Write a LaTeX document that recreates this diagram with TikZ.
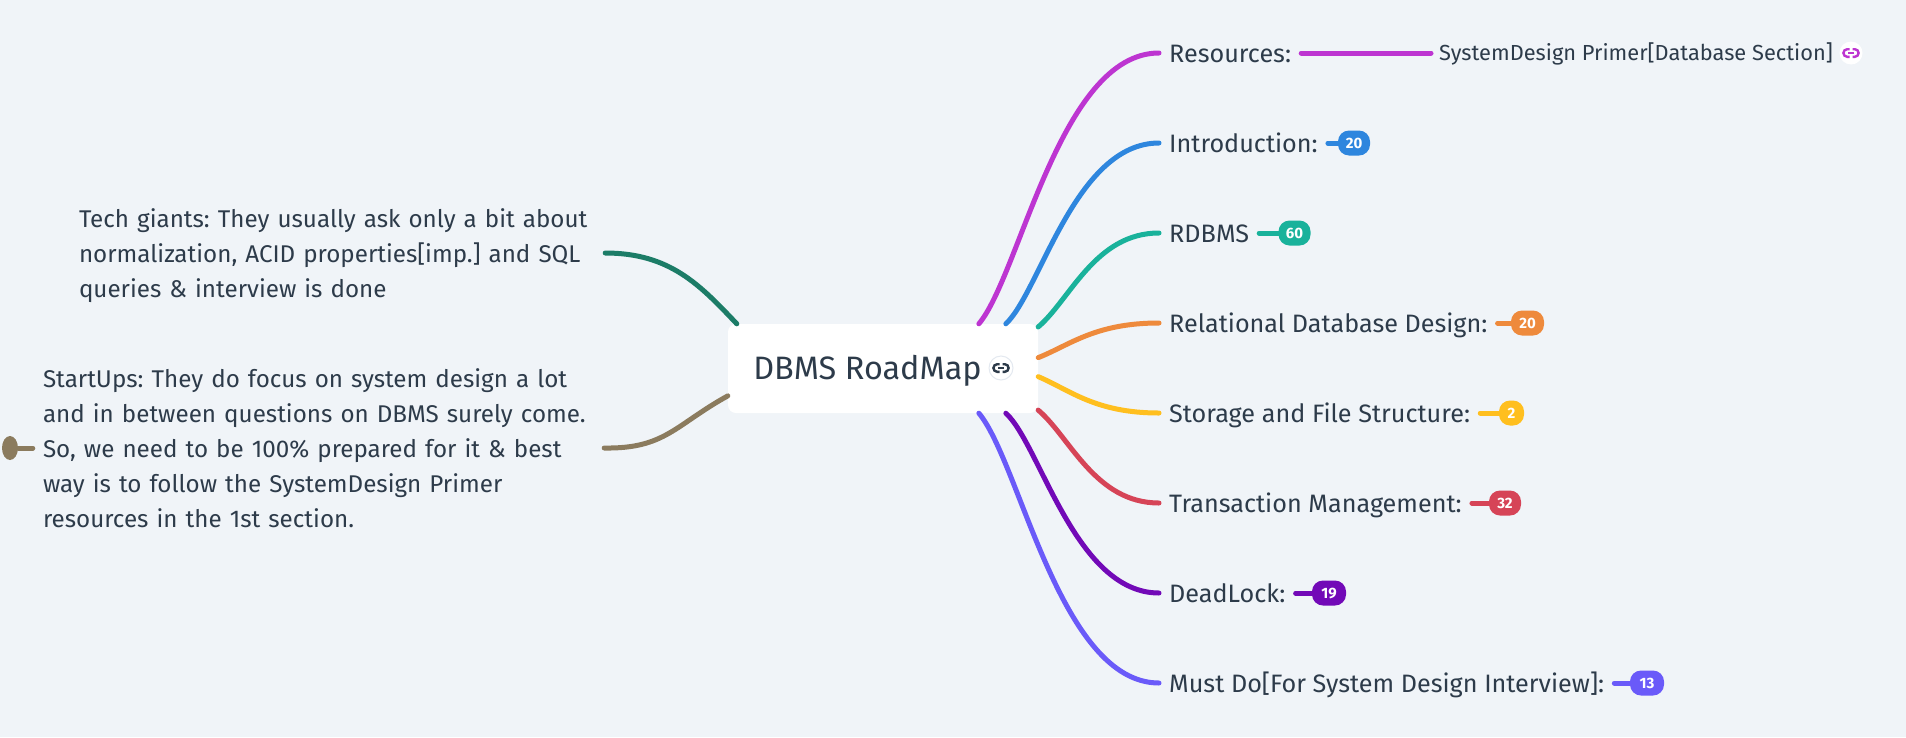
\documentclass[tikz,border=0pt]{standalone}
\usepackage{fontspec}
\setmainfont{Fira Sans}
\usetikzlibrary{shapes.geometric}
\definecolor{bgcolor}{HTML}{F0F4F8}
\definecolor{inkcolor}{HTML}{2D3B4A}
\definecolor{iconline}{HTML}{E4E9F0}
\definecolor{rescolor}{HTML}{BD35D1}
\definecolor{introcolor}{HTML}{2E86DE}
\definecolor{rdbmscolor}{HTML}{19B29B}
\definecolor{designcolor}{HTML}{EE8A3C}
\definecolor{storagecolor}{HTML}{FFBF1F}
\definecolor{transcolor}{HTML}{D64457}
\definecolor{lockcolor}{HTML}{7209B7}
\definecolor{mustcolor}{HTML}{6A5AF9}
\definecolor{techcolor}{HTML}{1C7C67}
\definecolor{startcolor}{HTML}{8B7B5E}
\tikzset{
  branch/.style={line width=5pt,line cap=round},
  topic/.style={anchor=west,inner xsep=10pt,inner ysep=0pt,text height=24pt,text depth=6pt,text=inkcolor,font=\fontsize{25.2}{35}\selectfont},
  note/.style={inner xsep=7pt,inner ysep=0pt,align=left,text=inkcolor,font=\fontsize{24.2}{35}\selectfont},
  badge/.style={minimum height=25pt,inner sep=0pt,text height=10pt,text depth=0pt,rounded corners=11pt,text=white,font=\fontsize{15}{15}\selectfont\bfseries},
  iconback/.style={circle,fill=white,inner sep=0pt},
  linkicon/.pic={
    \draw[line width=2.4pt] (-1.5,-3.8) -- (-3.8,-3.8) arc (270:90:3.8) -- (-1.5,3.8);
    \draw[line width=2.4pt] (1.5,-3.8) -- (3.8,-3.8) arc (-90:90:3.8) -- (1.5,3.8);
    \draw[line width=2.4pt] (-3,0) -- (3,0);
  }
}
\begin{document}
\frenchspacing
\begin{tikzpicture}[x=1pt,y=-1pt]
\fill[bgcolor] (0,0) rectangle (1906,737);
\node[fill=white,rounded corners=8pt,minimum width=310pt,minimum height=89pt,inner sep=0pt,text height=28pt,text depth=6pt,text=inkcolor,font=\fontsize{32.4}{36}\selectfont] (root) at (883,368.5) {DBMS RoadMap\hspace{31pt}\null};
\node[iconback,draw=iconline,line width=1pt,minimum size=24pt] (rooticon) at (1001,368) {};
\pic[inkcolor] at (rooticon) {linkicon};

\node[topic] (res) at (1159,53) {Resources:};
\node[topic] (intro) at (1159,143) {Introduction:};
\node[topic] (rdbms) at (1159,233) {RDBMS};
\node[topic] (design) at (1159,323) {Relational Database Design:};
\node[topic] (storage) at (1159,413) {Storage and File Structure:};
\node[topic] (trans) at (1159,503) {Transaction Management:};
\node[topic] (lock) at (1159,593) {DeadLock:};
\node[topic] (must) at (1159,683) {Must Do[For System Design Interview]:};

\node[anchor=west,inner xsep=8pt,inner ysep=0pt,text height=21pt,text depth=6pt,text=inkcolor,font=\fontsize{21.8}{24}\selectfont] (primer) at (1431,53) {SystemDesign Primer[Database Section]};
\node[iconback,minimum size=23pt] (primericon) at (1851,53) {};
\pic[rescolor] at (primericon) {linkicon};

\node[badge,fill=introcolor,minimum width=32pt] (b20a) at (1354,143) {20};
\node[badge,fill=rdbmscolor,minimum width=32pt] (b60) at (1294.5,233) {60};
\node[badge,fill=designcolor,minimum width=33pt] (b20b) at (1527.5,323) {20};
\node[badge,fill=storagecolor,minimum width=25pt] (b2) at (1511.5,413) {2};
\node[badge,fill=transcolor,minimum width=32pt] (b32) at (1505,503) {32};
\node[badge,fill=lockcolor,minimum width=34pt] (b19) at (1329,593) {19};
\node[badge,fill=mustcolor,minimum width=34pt] (b13) at (1647,683) {13};

\node[note,text width=519pt] (tech) at (338.5,256) {Tech giants: They usually ask only a bit about\\normalization, ACID properties[imp.] and SQL\\queries \& interview is done};
\node[note,text width=554pt] (startups) at (320,448) {StartUps: They do focus on system design a lot\\and in between questions on DBMS surely come.\\So, we need to be 100\% prepared for it \& best\\way is to follow the SystemDesign Primer\\resources in the 1st section.};
\node[ellipse,fill=startcolor,inner sep=0pt,minimum width=16pt,minimum height=24pt] (fold) at (10,448) {};

\draw[branch,rescolor] (root.25) .. controls (1020,275) and (1060,53) .. (res.west);
\draw[branch,introcolor] (root.20) .. controls (1040,292) and (1075,143) .. (intro.west);
\draw[branch,rdbmscolor] (root.15) .. controls (1070,300) and (1095,233) .. (rdbms.west);
\draw[branch,designcolor] (root.4) .. controls (1070,345) and (1095,323) .. (design.west);
\draw[branch,storagecolor] (root.-3) .. controls (1070,390) and (1095,413) .. (storage.west);
\draw[branch,transcolor] (root.-15) .. controls (1070,437) and (1095,503) .. (trans.west);
\draw[branch,lockcolor] (root.-20) .. controls (1040,444) and (1075,593) .. (lock.west);
\draw[branch,mustcolor] (root.-25) .. controls (1020,462) and (1060,683) .. (must.west);
\draw[branch,techcolor] (root.163) .. controls (700,285) and (670,253) .. ([yshift=3pt]tech.east);
\draw[branch,startcolor] (root.190) .. controls (675,425) and (665,449) .. (startups.east);
\draw[branch,startcolor,shorten >=3pt] (fold) -- (startups.west);

\draw[branch,rescolor] (res.east) -- (primer.west);
\draw[branch,introcolor] (intro.east) -- (b20a.west);
\draw[branch,rdbmscolor] (rdbms.east) -- (b60.west);
\draw[branch,designcolor] (design.east) -- (b20b.west);
\draw[branch,storagecolor] (storage.east) -- (b2.west);
\draw[branch,transcolor] (trans.east) -- (b32.west);
\draw[branch,lockcolor] (lock.east) -- (b19.west);
\draw[branch,mustcolor] (must.east) -- (b13.west);
\end{tikzpicture}
\end{document}
